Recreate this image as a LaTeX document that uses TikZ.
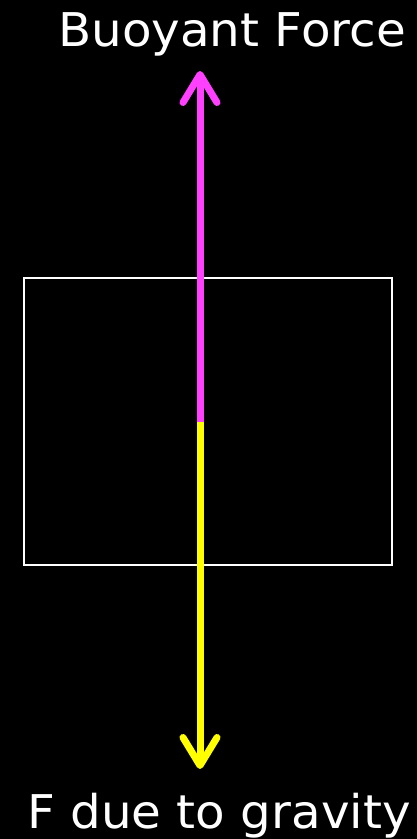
\documentclass[tikz,border=0pt]{standalone}
\usepackage{fontspec}
\setmainfont[FakeStretch=1.04]{DejaVu Sans}
\usetikzlibrary{arrows.meta}
\definecolor{buoymagenta}{RGB}{255,64,255}
\definecolor{gravyellow}{RGB}{255,255,0}

\begin{document}
\begin{tikzpicture}[x=1pt, y=1pt,
    every node/.style={text=white, font=\fontsize{46.5}{52}\selectfont, inner sep=0pt},
    body/.style={draw=white, line width=1.5pt, minimum width=368pt, minimum height=287pt},
    force/.style={line width=7pt, -{Straight Barb[length=28pt, width=34pt, round]}}
]
% background
\fill[black] (0,0) rectangle (417,839);
\useasboundingbox (0,0) rectangle (417,839);
% the floating block
\node[body] (block) at (208,417.5) {};
\coordinate (mid)  at (200,417);
\coordinate (up)   at (200,768);
\coordinate (down) at (200,70);
% labels
\node[anchor=base] (buoy) at (232,792) {Buoyant Force};
\node[anchor=base] (grav) at (219,10)  {F due to gravity};
% forces
\draw[force, buoymagenta] (mid) -- (up);
\draw[force, gravyellow]  (mid) -- (down);
\end{tikzpicture}
\end{document}
